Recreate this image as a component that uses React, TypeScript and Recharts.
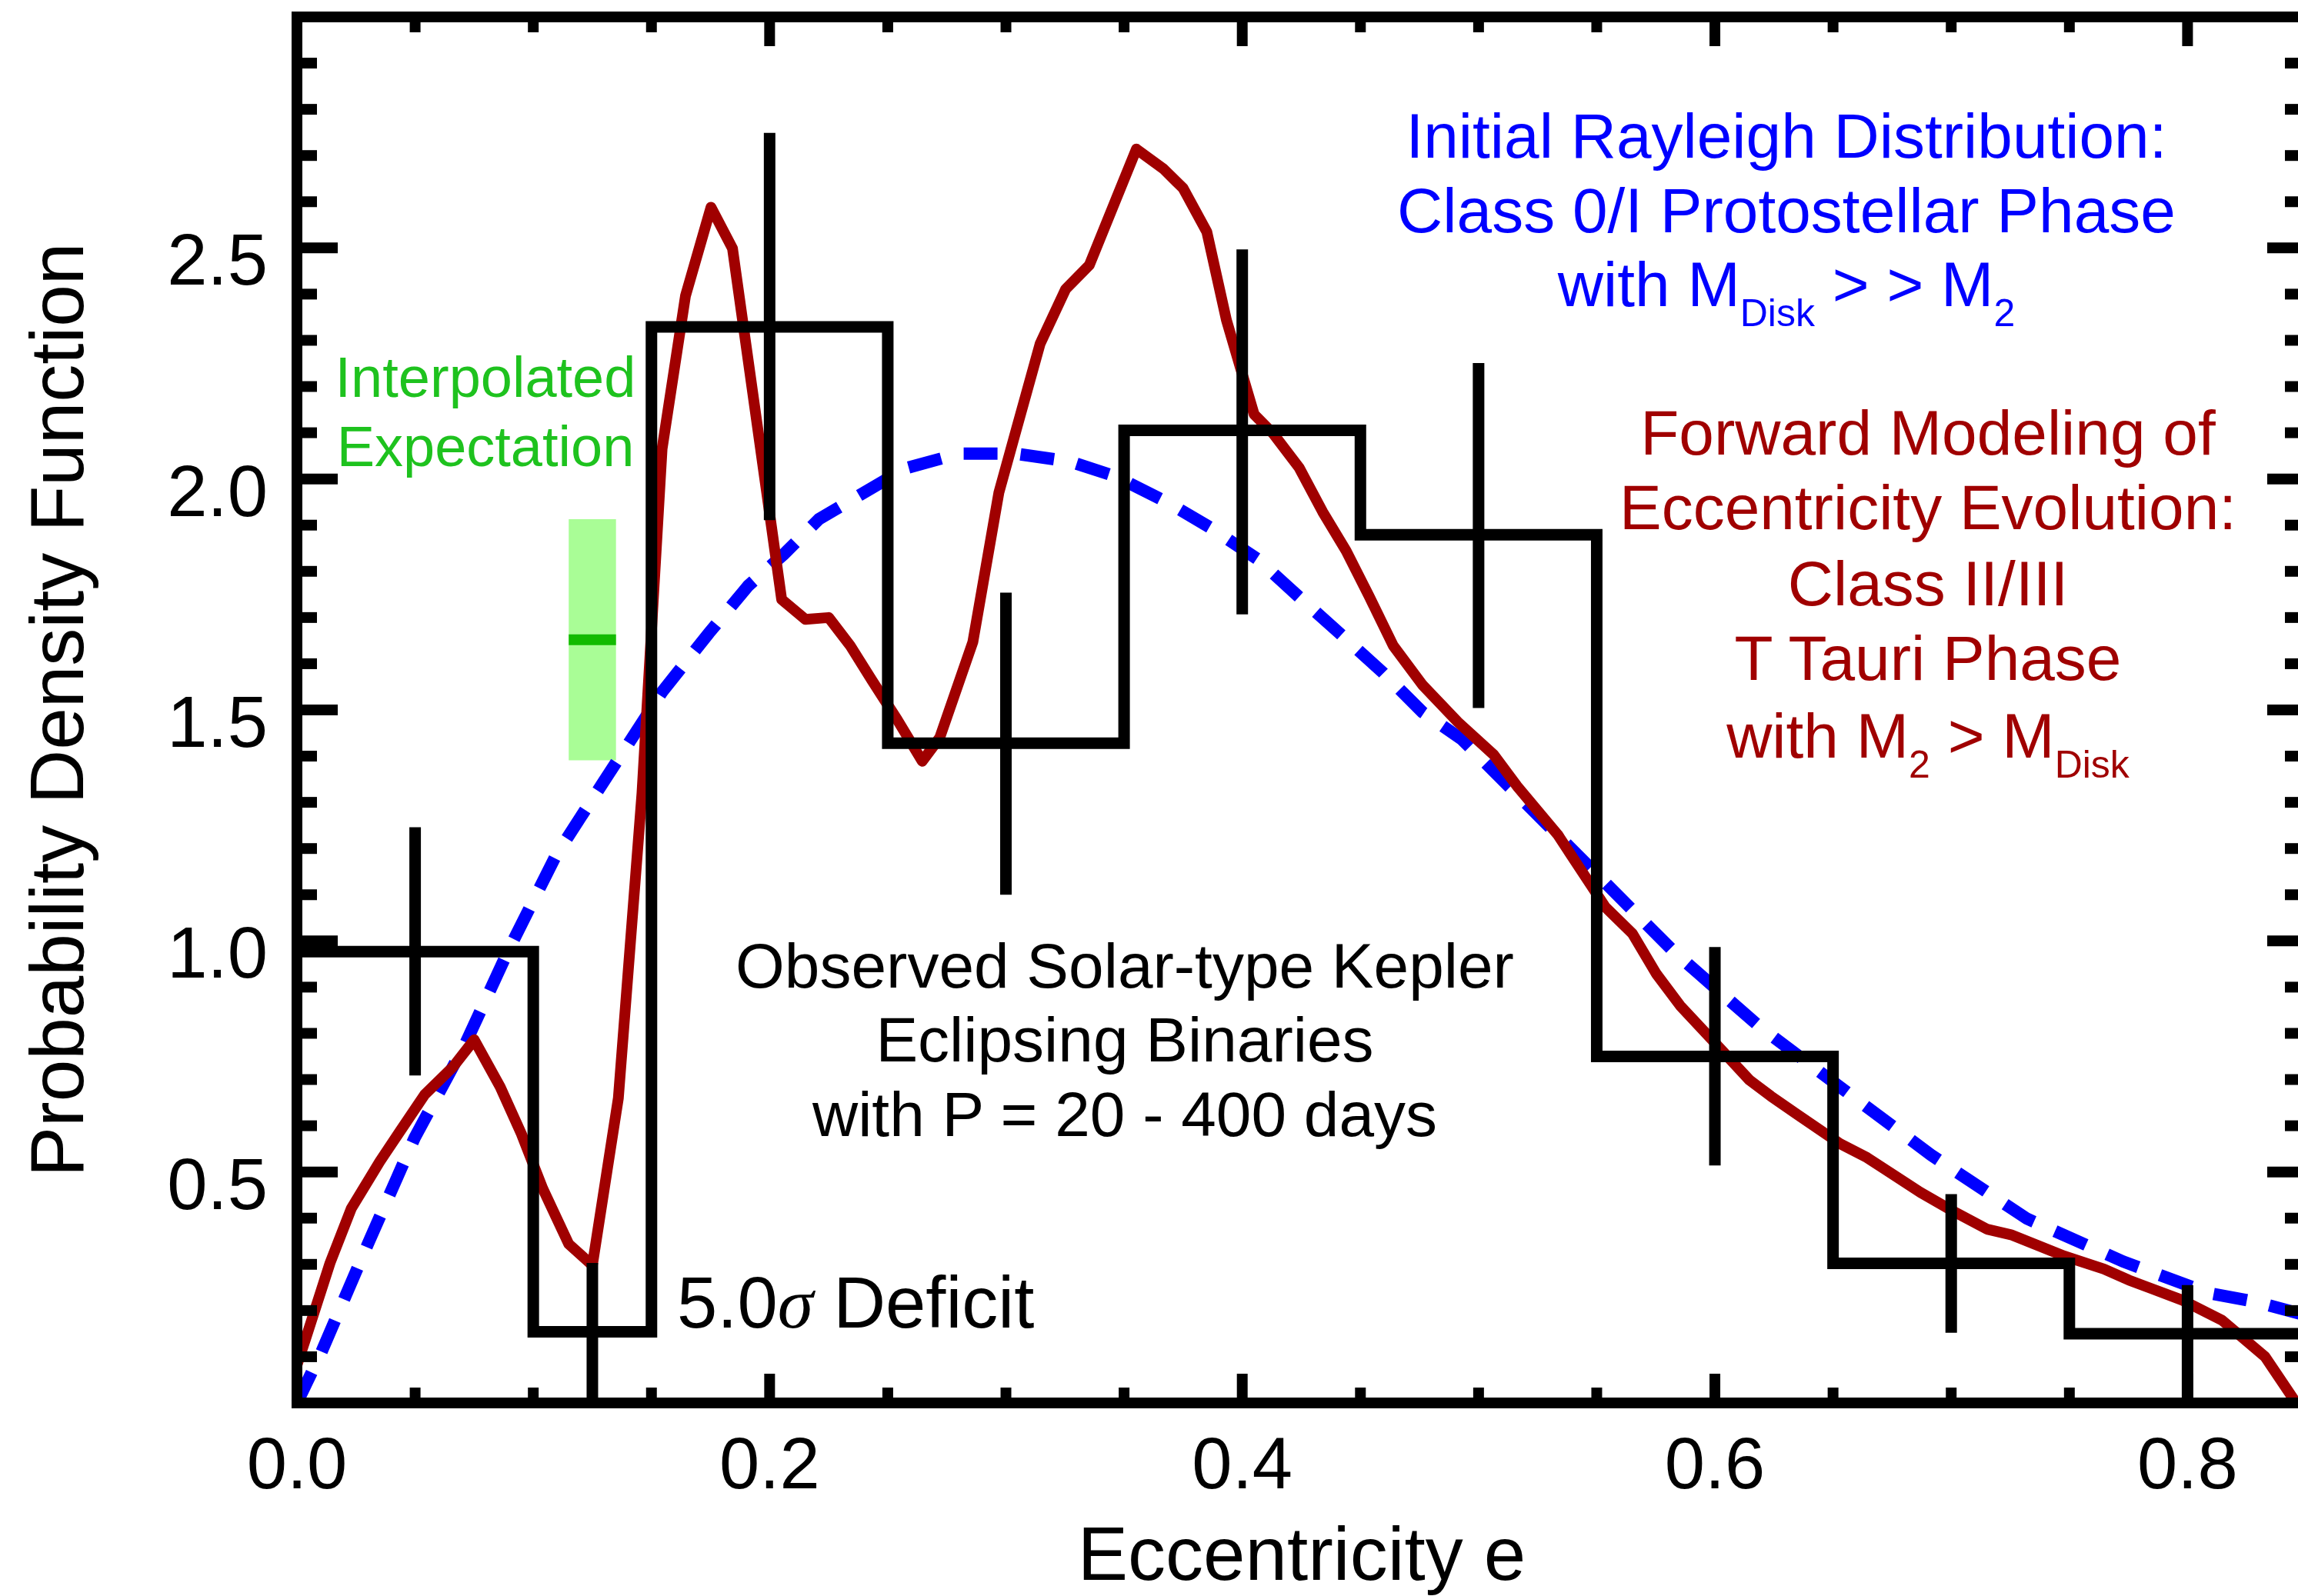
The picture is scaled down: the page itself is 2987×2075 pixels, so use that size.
import { ComposedChart, Line, Scatter, ErrorBar, XAxis, YAxis, ReferenceArea, Customized } from 'recharts';

const FONT = '"Liberation Sans", Arial, Helvetica, sans-serif';
const BLUE = '#0000ff';
const RED = '#a00000';

// observed histogram: left bin edges and heights (last edge closes the final bin)
const binEdges = [0, 0.1, 0.15, 0.25, 0.35, 0.45, 0.55, 0.65, 0.75, 0.85];
const binHeights = [0.977, 0.154, 2.329, 1.428, 2.105, 1.879, 0.75, 0.302, 0.15, 0.15];

// error bars at the bin centres (lower / upper extent)
const errCenters = [0.05, 0.125, 0.2, 0.3, 0.4, 0.5, 0.6, 0.7, 0.8];
const errValues = [0.977, 0.154, 2.329, 1.428, 2.105, 1.879, 0.75, 0.302, 0.15];
const errLow = [0.268, 0.154, 0.418, 0.328, 0.398, 0.375, 0.236, 0.15, 0.15];
const errHigh = [0.269, 0.149, 0.42, 0.326, 0.392, 0.372, 0.237, 0.15, 0.105];

// initial Rayleigh distribution (blue dashed)
const rayE = [0, 0.01, 0.03, 0.0498, 0.0713, 0.0897, 0.1096, 0.1246, 0.1545, 0.1744, 0.191, 0.206, 0.2209, 0.2375,
  0.2575, 0.2803, 0.3036, 0.3268, 0.3467, 0.3684, 0.3867, 0.4066, 0.4248, 0.4414, 0.4597, 0.4763, 0.4928, 0.538,
  0.583, 0.619, 0.6553, 0.6914, 0.732, 0.7728, 0.8088, 0.8287, 0.85];
const rayV = [0, 0.106, 0.344, 0.574, 0.778, 0.982, 1.185, 1.304, 1.539, 1.667, 1.769, 1.837, 1.913, 1.963,
  2.023, 2.055, 2.055, 2.038, 2.005, 1.949, 1.894, 1.826, 1.741, 1.665, 1.58, 1.495, 1.437, 1.206,
  0.975, 0.814, 0.675, 0.537, 0.399, 0.306, 0.238, 0.219, 0.19];

// forward model of eccentricity evolution (red)
const modelE = [0, 0.0033, 0.014, 0.023, 0.035, 0.044, 0.054, 0.066, 0.075, 0.086, 0.095, 0.104, 0.115, 0.125,
  0.136, 0.146, 0.1545, 0.1644, 0.1752, 0.1843, 0.2051, 0.2152, 0.225, 0.234, 0.2433, 0.254, 0.2646, 0.272,
  0.286, 0.297, 0.3044, 0.3145, 0.3253, 0.3353, 0.3552, 0.3667, 0.375, 0.385, 0.3933, 0.405, 0.4131, 0.424,
  0.434, 0.444, 0.4538, 0.4639, 0.4763, 0.4912, 0.5064, 0.5166, 0.5335, 0.547, 0.5537, 0.5651, 0.5752, 0.5853,
  0.599, 0.6146, 0.6237, 0.635, 0.653, 0.6644, 0.6869, 0.7005, 0.7152, 0.7253, 0.7478, 0.7646, 0.7751, 0.798,
  0.8146, 0.8328, 0.846];
const modelV = [0.082, 0.133, 0.303, 0.421, 0.522, 0.591, 0.667, 0.727, 0.786, 0.684, 0.582, 0.464, 0.344, 0.298,
  0.66, 1.32, 2.065, 2.396, 2.588, 2.499, 1.739, 1.696, 1.7, 1.64, 1.564, 1.479, 1.389, 1.44,
  1.647, 1.97, 2.107, 2.293, 2.411, 2.463, 2.714, 2.671, 2.629, 2.535, 2.344, 2.14, 2.098, 2.025,
  1.929, 1.844, 1.745, 1.639, 1.554, 1.474, 1.403, 1.333, 1.23, 1.125, 1.073, 1.016, 0.929, 0.86,
  0.785, 0.699, 0.664, 0.624, 0.561, 0.531, 0.456, 0.416, 0.376, 0.364, 0.318, 0.29, 0.266, 0.222,
  0.179, 0.1, 0];

// interpolated expectation in the deficit bin
const expE = [0.115, 0.135];
const expMid = 1.652;
const expLow = 1.391;
const expHigh = 1.913;

const xTicks = [0, 0.05, 0.1, 0.15, 0.2, 0.25, 0.3, 0.35, 0.4, 0.45, 0.5, 0.55, 0.6, 0.65, 0.7, 0.75, 0.8, 0.85];
const xLabeled = [0, 0.2, 0.4, 0.6, 0.8];
const yTicks = [0, 0.1, 0.2, 0.3, 0.4, 0.5, 0.6, 0.7, 0.8, 0.9, 1, 1.1, 1.2, 1.3, 1.4, 1.5, 1.6, 1.7, 1.8, 1.9,
  2, 2.1, 2.2, 2.3, 2.4, 2.5, 2.6, 2.7, 2.8, 2.9, 3];
const yLabeled = [0.5, 1, 1.5, 2, 2.5];

const histData = binEdges.map((e, i) => ({ e, v: binHeights[i] }));
const errData = errCenters.map((e, i) => ({ e, v: errValues[i], err: [errLow[i], errHigh[i]] }));
const rayData = rayE.map((e, i) => ({ e, v: rayV[i] }));
const modelData = modelE.map((e, i) => ({ e, v: modelV[i] }));
const expData = expE.map((e) => ({ e, v: expMid }));

const TW = 14;
const axisStyle = { stroke: '#000', strokeWidth: TW, strokeLinecap: 'square' as const };

function BottomTick({ x, y, payload }: any) {
  const label = xLabeled.includes(payload.value);
  const major = label && payload.value !== 0;
  return (
    <g>
      <line x1={x} y1={y} x2={x} y2={y - (major ? 38 : 20)} stroke="#000" strokeWidth={TW} />
      {label && (
        <text x={x} y={y + 111} textAnchor="middle" fontSize={94} fontFamily={FONT} fill="#000">
          {payload.value.toFixed(1)}
        </text>
      )}
    </g>
  );
}

function TopTick({ x, y, payload }: any) {
  const major = xLabeled.includes(payload.value) && payload.value !== 0;
  return <line x1={x} y1={y} x2={x} y2={y + (major ? 38 : 20)} stroke="#000" strokeWidth={TW} />;
}

function LeftTick({ x, y, payload }: any) {
  const major = yLabeled.includes(payload.value);
  return (
    <g>
      <line x1={x} y1={y} x2={x + (major ? 53 : 26)} y2={y} stroke="#000" strokeWidth={TW} />
      {major && (
        <text x={x - 38} y={y + 48} textAnchor="end" fontSize={94} fontFamily={FONT} fill="#000">
          {payload.value.toFixed(1)}
        </text>
      )}
    </g>
  );
}

function RightTick({ x, y, payload }: any) {
  const major = yLabeled.includes(payload.value);
  return <line x1={x} y1={y} x2={x - (major ? 50 : 27)} y2={y} stroke="#000" strokeWidth={TW} />;
}

function Notes() {
  return (
    <g fontFamily={FONT}>
      <g fill={BLUE} fontSize={82} textAnchor="middle">
        <text x={2322} y={205}>Initial Rayleigh Distribution:</text>
        <text x={2322} y={302}>Class 0/I Protostellar Phase</text>
        <text x={2322} y={398}>
          with M<tspan dy={26} fontSize={50}>Disk</tspan>
          <tspan dy={-26}> &gt; &gt; M</tspan>
          <tspan dy={26} fontSize={50}>2</tspan>
        </text>
      </g>
      <g fill={RED} fontSize={82} textAnchor="middle">
        <text x={2506} y={591}>Forward Modeling of</text>
        <text x={2506} y={688}>Eccentricity Evolution:</text>
        <text x={2506} y={787}>Class II/III</text>
        <text x={2506} y={884}>T Tauri Phase</text>
        <text x={2506} y={985}>
          with M<tspan dy={26} fontSize={50}>2</tspan>
          <tspan dy={-26}> &gt; M</tspan>
          <tspan dy={26} fontSize={50}>Disk</tspan>
        </text>
      </g>
      <g fill="#000" fontSize={82} textAnchor="middle">
        <text x={1462} y={1284}>Observed Solar-type Kepler</text>
        <text x={1462} y={1380}>Eclipsing Binaries</text>
        <text x={1462} y={1477}>with P = 20 - 400 days</text>
      </g>
      <text x={880} y={1726} fontSize={94} fill="#000">
        5.0<tspan fontFamily='"Liberation Serif", "DejaVu Serif", serif' fontStyle="italic">σ</tspan> Deficit
      </text>
      <g fill="#1ec21e" fontSize={74} textAnchor="middle">
        <text x={631} y={516}>Interpolated</text>
        <text x={631} y={606}>Expectation</text>
      </g>
      <text x={1692} y={2054} fontSize={98} textAnchor="middle" fill="#000">Eccentricity e</text>
      <text x={108} y={923} fontSize={98} textAnchor="middle" fill="#000" transform="rotate(-90 108 923)">
        Probability Density Function
      </text>
    </g>
  );
}

export default function App() {
  return (
    <div style={{ position: 'absolute', left: 0, top: 0, width: 2987, height: 2075, overflow: 'hidden', background: '#fff' }}>
      <ComposedChart width={3010} height={2075} margin={{ top: 21, right: 12, bottom: 250, left: 385 }}>
        <XAxis
          xAxisId={0}
          dataKey="e"
          type="number"
          domain={[0, 0.85]}
          ticks={xTicks}
          interval={0}
          height={1}
          tickSize={0}
          tickMargin={0}
          tickLine={false}
          axisLine={axisStyle}
          tick={<BottomTick />}
        />
        <XAxis
          xAxisId="top"
          orientation="top"
          dataKey="e"
          type="number"
          domain={[0, 0.85]}
          allowDataOverflow
          ticks={xTicks}
          interval={0}
          height={1}
          tickSize={0}
          tickMargin={0}
          tickLine={false}
          axisLine={axisStyle}
          tick={<TopTick />}
        />
        <YAxis
          yAxisId={0}
          type="number"
          domain={[0, 3]}
          ticks={yTicks}
          interval={0}
          width={1}
          tickSize={0}
          tickMargin={0}
          tickLine={false}
          axisLine={axisStyle}
          tick={<LeftTick />}
        />
        <YAxis
          yAxisId="right"
          orientation="right"
          type="number"
          domain={[0, 3]}
          allowDataOverflow
          ticks={yTicks}
          interval={0}
          width={1}
          tickSize={0}
          tickMargin={0}
          tickLine={false}
          axisLine={axisStyle}
          tick={<RightTick />}
        />
        <ReferenceArea x1={expE[0]} x2={expE[1]} y1={expLow} y2={expHigh} fill="#a9fd96" fillOpacity={1} stroke="none" />
        <Line data={expData} dataKey="v" stroke="#12bb00" strokeWidth={14} dot={false} isAnimationActive={false} />
        <Line data={rayData} dataKey="v" stroke={BLUE} strokeWidth={16} strokeDasharray="44 30" dot={false} isAnimationActive={false} />
        <Line data={modelData} dataKey="v" stroke={RED} strokeWidth={14} strokeLinejoin="round" dot={false} isAnimationActive={false} />
        <Line data={histData} dataKey="v" type="stepAfter" stroke="#000" strokeWidth={15} strokeLinejoin="miter" dot={false} isAnimationActive={false} />
        <Scatter data={errData} dataKey="v" shape={() => <g />} isAnimationActive={false}>
          <ErrorBar dataKey="err" direction="y" width={0} stroke="#000" strokeWidth={15} isAnimationActive={false} />
        </Scatter>
        <Customized component={<Notes />} />
      </ComposedChart>
    </div>
  );
}
